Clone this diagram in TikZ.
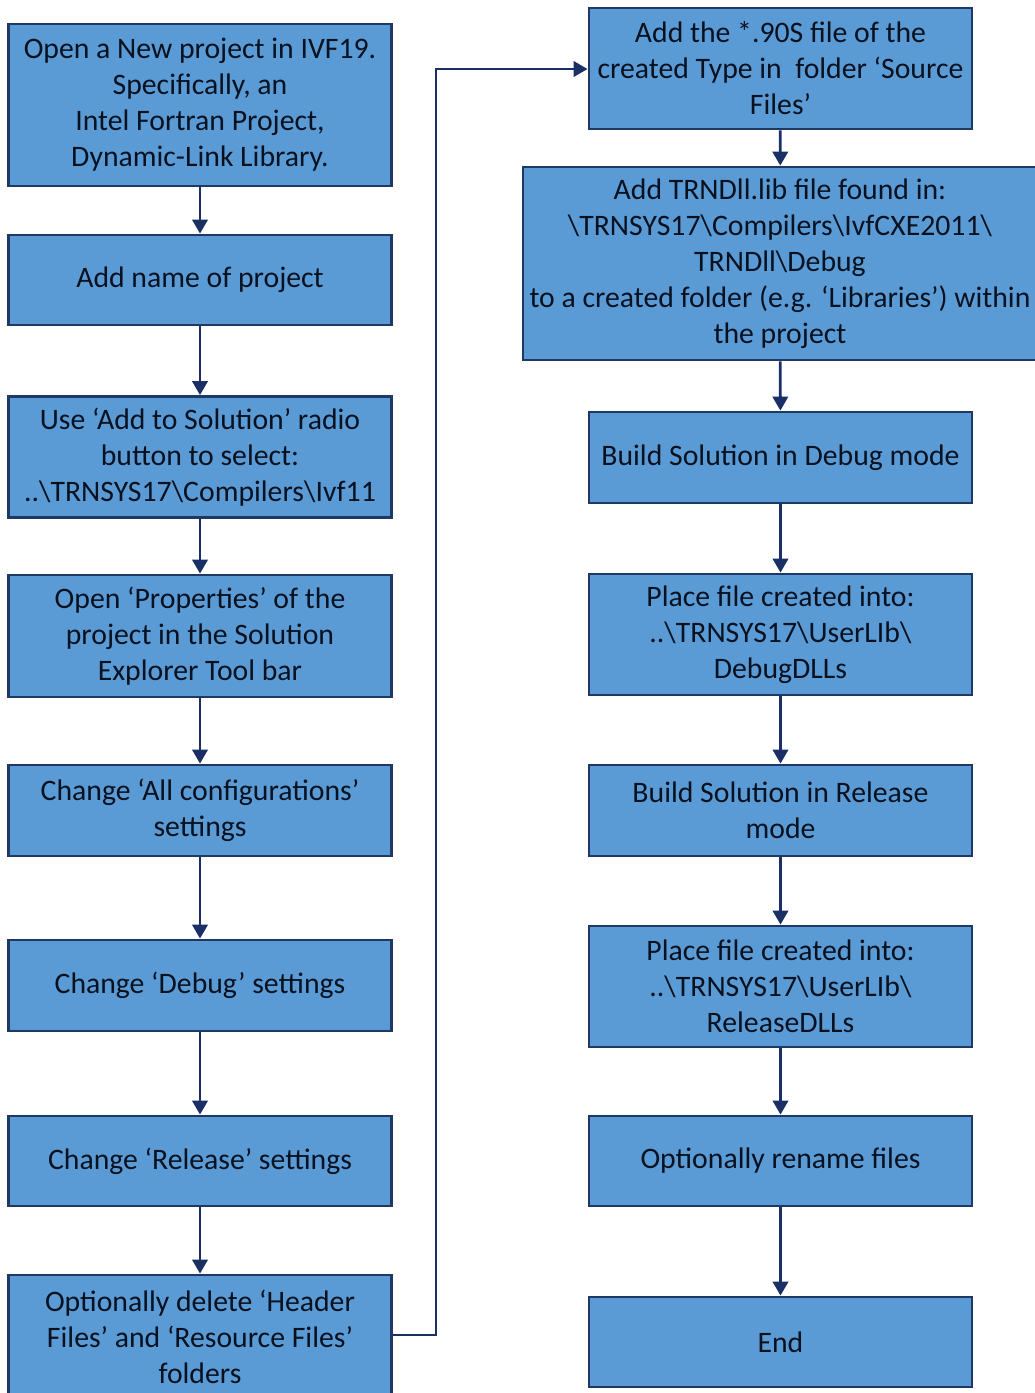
\documentclass[tikz,border=0pt]{standalone}
\usepackage{fontspec}
\setmainfont{Carlito}
\usetikzlibrary{arrows.meta}
\definecolor{boxfill}{HTML}{5B9BD5}
\definecolor{boxline}{HTML}{1F3864}
\definecolor{arrowc}{HTML}{1A2F66}
\definecolor{txt}{HTML}{08111F}
\begin{document}
\begin{tikzpicture}[x=0.75pt,y=-0.75pt,
  stepbox/.style={draw=boxline, line width=2.1pt, fill=boxfill, text=txt,
    align=center, inner sep=0pt, minimum width=0.75*383pt,
    font=\fontsize{22.3pt}{27pt}\selectfont},
  flow/.style={draw=arrowc, line width=2.1pt, -{Triangle[length=10.5pt,width=11.5pt]}}]
\useasboundingbox (0,0) rectangle (1035,1393);
% left column
\node[stepbox, minimum height=0.75*162pt] (l1) at (200,105) {Open a New project in IVF19.\\Specifically, an\\Intel Fortran Project,\\Dynamic-Link Library.};
\node[stepbox, minimum height=0.75*90pt] (l2) at (200,280) {Add name of project};
\node[stepbox, minimum height=0.75*121pt] (l3) at (200,457) {Use ‘Add to Solution’ radio\\button to select:\\..\textbackslash TRNSYS17\textbackslash Compilers\textbackslash Ivf11};
\node[stepbox, minimum height=0.75*122pt] (l4) at (200,636) {Open ‘Properties’ of the\\project in the Solution\\Explorer Tool bar};
\node[stepbox, minimum height=0.75*91pt] (l5) at (200,810.5) {Change ‘All configurations’\\settings};
\node[stepbox, minimum height=0.75*91pt] (l6) at (200,985.5) {Change ‘Debug’ settings};
\node[stepbox, minimum height=0.75*90pt] (l7) at (200,1161) {Change ‘Release’ settings};
\node[stepbox, minimum height=0.75*124pt] (l8) at (200,1337) {Optionally delete ‘Header\\Files’ and ‘Resource Files’\\folders};
% right column
\node[stepbox, minimum height=0.75*121pt] (r1) at (780.5,68.5) {Add the *.90S file of the\\created Type in\ \ folder ‘Source\\Files’};
\node[stepbox, minimum width=0.75*514pt, minimum height=0.75*193pt] (r2) at (780,263.5) {Add TRNDll.lib file found in:\\\textbackslash TRNSYS17\textbackslash Compilers\textbackslash IvfCXE2011\textbackslash\\TRNDll\textbackslash Debug\\to a created folder (e.g. ‘Libraries’) within\\the project};
\node[stepbox, minimum height=0.75*91pt] (r3) at (780.5,457.5) {Build Solution in Debug mode};
\node[stepbox, minimum height=0.75*121pt] (r4) at (780.5,634.5) {Place file created into:\\..\textbackslash TRNSYS17\textbackslash UserLIb\textbackslash\\DebugDLLs};
\node[stepbox, minimum height=0.75*91pt] (r5) at (780.5,810.5) {Build Solution in Release\\mode};
\node[stepbox, minimum height=0.75*121pt] (r6) at (780.5,986.5) {Place file created into:\\..\textbackslash TRNSYS17\textbackslash UserLIb\textbackslash\\ReleaseDLLs};
\node[stepbox, minimum height=0.75*90pt] (r7) at (780.5,1161) {Optionally rename files};
\node[stepbox, minimum height=0.75*90pt] (r8) at (780.5,1342) {End};
% connectors
\draw[flow] (l1) -- (l2);
\draw[flow] (l2) -- (l3);
\draw[flow] (l3) -- (l4);
\draw[flow] (l4) -- (l5);
\draw[flow] (l5) -- (l6);
\draw[flow] (l6) -- (l7);
\draw[flow] (l7) -- (l8);
\coordinate (jx) at (436,1335);
\draw[flow] (l8.east |- jx) -- (jx) -- (436,69) -- (r1.west |- 0,69);
\draw[flow] (r1) -- (r2);
\draw[flow] (r2) -- (r3);
\draw[flow] (r3) -- (r4);
\draw[flow] (r4) -- (r5);
\draw[flow] (r5) -- (r6);
\draw[flow] (r6) -- (r7);
\draw[flow] (r7) -- (r8);
\end{tikzpicture}
\end{document}
